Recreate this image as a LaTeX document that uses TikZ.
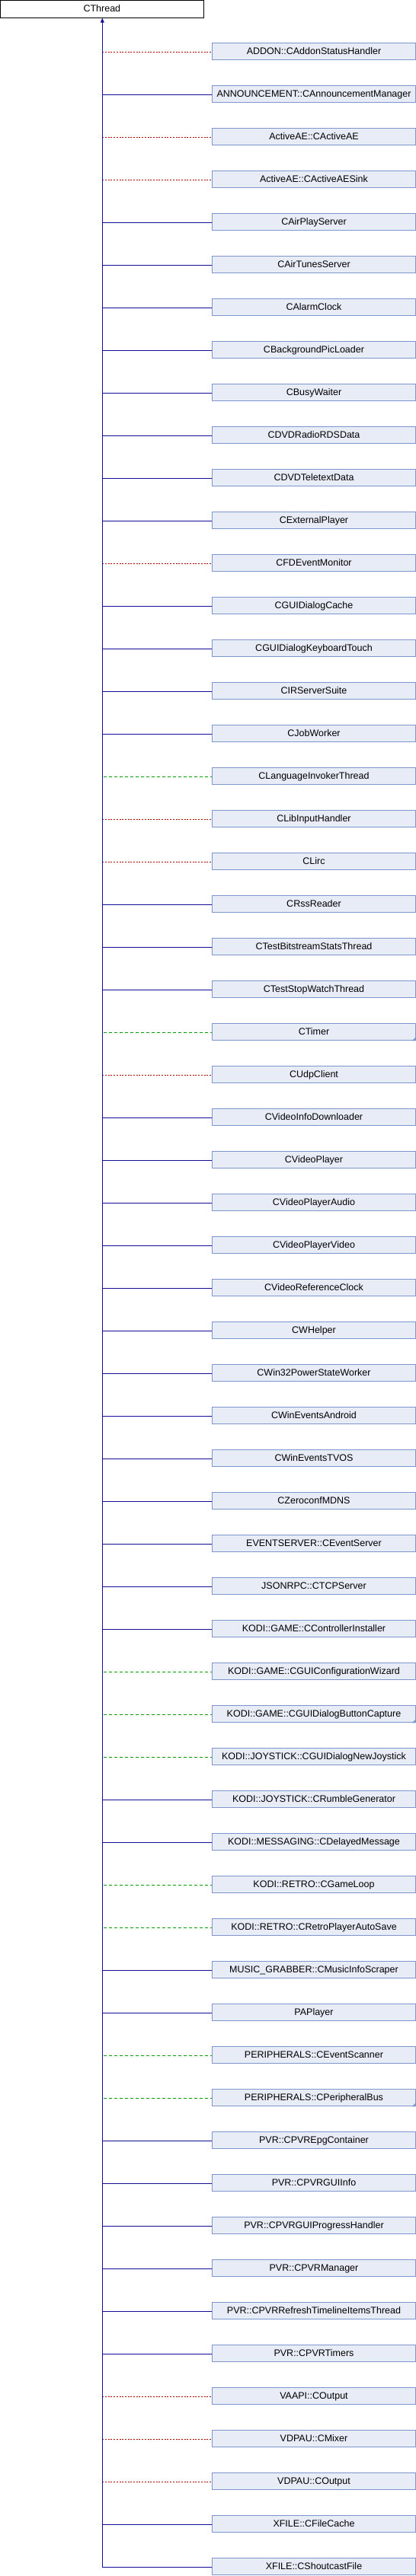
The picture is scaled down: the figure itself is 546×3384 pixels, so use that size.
\documentclass[tikz,border=0pt]{standalone}
\usepackage{fontspec}
\setmainfont{Liberation Sans}
\usetikzlibrary{arrows.meta,calc}
\definecolor{pubcol}{HTML}{10109A}
\definecolor{protcol}{HTML}{00A000}
\definecolor{privcol}{HTML}{B00000}
\definecolor{boxfill}{HTML}{E8ECF6}
\definecolor{boxline}{HTML}{7C95CA}
\tikzset{
  classbox/.style={rectangle, line width=1pt, inner sep=0pt,
    minimum width=266.4pt, minimum height=22.3pt,
    text height=9.3pt, text depth=2pt,
    font=\fontsize{12.5}{14}\selectfont},
  rootbox/.style={classbox, draw=black, fill=white, minimum height=22.7pt},
  childbox/.style={classbox, draw=boxline, fill=boxfill},
  pub/.style={draw=pubcol, line width=1pt},
  prot/.style={draw=protcol, line width=1pt, dash pattern=on 4pt off 3pt, dash phase=5pt},
  priv/.style={draw=privcol, line width=1pt, dash pattern=on 2pt off 1.7pt},
  cornermark/.style={fill=boxline}
}
\begin{document}
\begin{tikzpicture}[x=1pt,y=-1pt]
\useasboundingbox (0,0) rectangle (546,3384);
\node[rootbox] (root) at (133.85,11.85) {CThread};
\coordinate (trunk) at (134.3,0);
\foreach \nm/\kind [count=\i] in {
 ADDON::CAddonStatusHandler/priv,
 ANNOUNCEMENT::CAnnouncementManager/pub,
 ActiveAE::CActiveAE/priv,
 ActiveAE::CActiveAESink/priv,
 CAirPlayServer/pub,
 CAirTunesServer/pub,
 CAlarmClock/pub,
 CBackgroundPicLoader/pub,
 CBusyWaiter/pub,
 CDVDRadioRDSData/pub,
 CDVDTeletextData/pub,
 CExternalPlayer/pub,
 CFDEventMonitor/priv,
 CGUIDialogCache/pub,
 CGUIDialogKeyboardTouch/pub,
 CIRServerSuite/pub,
 CJobWorker/pub,
 CLanguageInvokerThread/prot,
 CLibInputHandler/priv,
 CLirc/priv,
 CRssReader/pub,
 CTestBitstreamStatsThread/pub,
 CTestStopWatchThread/pub,
 CTimer/prot,
 CUdpClient/priv,
 CVideoInfoDownloader/pub,
 CVideoPlayer/pub,
 CVideoPlayerAudio/pub,
 CVideoPlayerVideo/pub,
 CVideoReferenceClock/pub,
 CWHelper/pub,
 CWin32PowerStateWorker/pub,
 CWinEventsAndroid/pub,
 CWinEventsTVOS/pub,
 CZeroconfMDNS/pub,
 EVENTSERVER::CEventServer/pub,
 JSONRPC::CTCPServer/pub,
 KODI::GAME::CControllerInstaller/pub,
 KODI::GAME::CGUIConfigurationWizard/prot,
 KODI::GAME::CGUIDialogButtonCapture/prot,
 KODI::JOYSTICK::CGUIDialogNewJoystick/prot,
 KODI::JOYSTICK::CRumbleGenerator/pub,
 KODI::MESSAGING::CDelayedMessage/pub,
 KODI::RETRO::CGameLoop/prot,
 KODI::RETRO::CRetroPlayerAutoSave/prot,
 MUSIC\_GRABBER::CMusicInfoScraper/pub,
 PAPlayer/pub,
 PERIPHERALS::CEventScanner/prot,
 PERIPHERALS::CPeripheralBus/prot,
 PVR::CPVREpgContainer/pub,
 PVR::CPVRGUIInfo/pub,
 PVR::CPVRGUIProgressHandler/pub,
 PVR::CPVRManager/pub,
 PVR::CPVRRefreshTimelineItemsThread/pub,
 PVR::CPVRTimers/pub,
 VAAPI::COutput/priv,
 VDPAU::CMixer/priv,
 VDPAU::COutput/priv,
 XFILE::CFileCache/pub,
 XFILE::CShoutcastFile/pub}{
  \node[childbox] (c\i) at (412,{67.65+56*(\i-1)}) {\nm};
  \draw[\kind] ($(trunk |- c\i.west)+(0,1)$) -- ($(c\i.west)+(0,1)$);
}
\coordinate (trunkend) at ($(trunk |- c60.west)+(0,1)$);
\draw[pub,-{Triangle[width=5pt,length=6pt]}] (trunkend) -- (trunkend |- root.south);
\foreach \k in {24,40,49}{
  \fill[cornermark] (c\k.south east) -- ++(-5,0) -- ++(5,-5) -- cycle;
}
\end{tikzpicture}
\end{document}
